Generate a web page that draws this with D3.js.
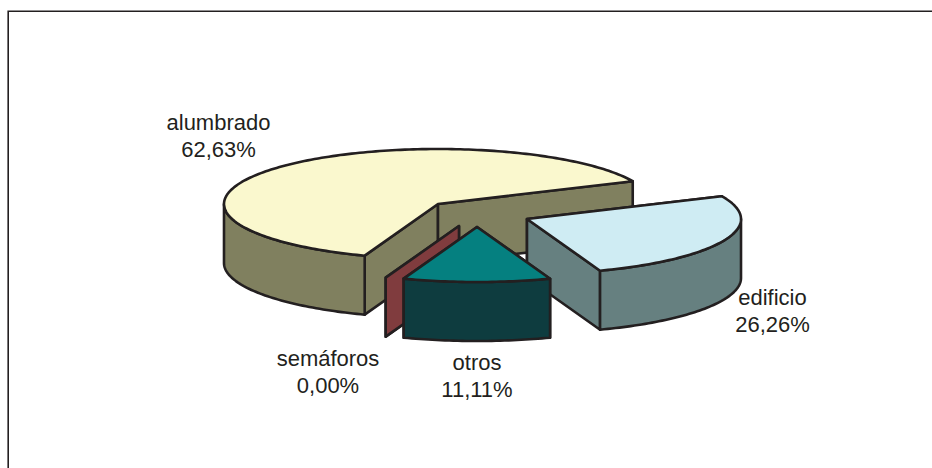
<!DOCTYPE html>
<html><head><meta charset="utf-8">
<script src="https://cdn.jsdelivr.net/npm/d3@7"></script>
<style>html,body{margin:0;padding:0;background:#fff}svg{display:block}
text{font-family:"Liberation Sans",Arial,sans-serif;font-size:22px;fill:#231f20;text-anchor:middle}</style>
</head><body><svg id="c" width="932" height="468"></svg>
<script>
const categories = ["edificio","otros","semáforos","alumbrado"];
const values = [26.26, 11.11, 0.00, 62.63];
const percentLabels = ["26,26%","11,11%","0,00%","62,63%"];
const topColors = ["#cfecf3","#058080","#803c3e","#faf8ce"];
const sideColors = ["#668080","#0e3c3f","#803c3e","#80805f"];
// layout only
const center = [438,204], rx = 214, ry = 55, depth = 59;
const explode = [[89,15],[39,23],[21,22],[0,0]];
const labelPos = [[772.5,297],[477,362],[328,358],[218.5,122]];
const drawOrder = [3,2,0,1];
const stroke = "#231f20";

const svg = d3.select("#c");
svg.append("path").attr("d","M8.2 468V11.2H932").attr("fill","none").attr("stroke","#231f20").attr("stroke-width",1.6);

const startA = 65.5*Math.PI/180;
const arcs = d3.pie().sort(null).value(d=>d).startAngle(startA).endAngle(startA+2*Math.PI)(values);
const pt = (a,c,dy=0)=>[c[0]+rx*Math.sin(a), c[1]-ry*Math.cos(a)+dy];
const line = d3.line();
function rim(a0,a1,c,dy){ // samples along elliptical edge
  const n = Math.max(1,Math.ceil(Math.abs(a1-a0)/0.02));
  return d3.range(n+1).map(i=>pt(a0+(a1-a0)*i/n,c,dy));
}
drawOrder.forEach(i=>{
  const a=arcs[i], c=[center[0]+explode[i][0],center[1]+explode[i][1]];
  const g=svg.append("g").attr("stroke",stroke).attr("stroke-width",2.6).attr("stroke-linejoin","round");
  const apexB=[c[0],c[1]+depth];
  // radial faces
  [a.startAngle,a.endAngle].forEach(t=>{
    const p=pt(t,c),q=pt(t,c,depth);
    g.append("path").attr("d",line([c,p,q,apexB])+"Z").attr("fill",sideColors[i]);
  });
  // outer wall: only the part facing the viewer
  const lo=Math.max(a.startAngle,Math.PI/2), hi=Math.min(a.endAngle,Math.PI*1.5);
  if(hi>lo){
    g.append("path").attr("d",line([...rim(lo,hi,c,0),...rim(hi,lo,c,depth)])+"Z").attr("fill",sideColors[i]);
  }
  if(a.endAngle>a.startAngle){
    g.append("path").attr("d",line([c,...rim(a.startAngle,a.endAngle,c,0)])+"Z").attr("fill",topColors[i]);
  }
});
labelPos.forEach((p,i)=>{
  const t=svg.append("text").attr("x",p[0]).attr("y",p[1]+8);
  t.append("tspan").attr("x",p[0]).text(categories[i]);
  t.append("tspan").attr("x",p[0]).attr("dy",27).text(percentLabels[i]);
});
</script></body></html>
